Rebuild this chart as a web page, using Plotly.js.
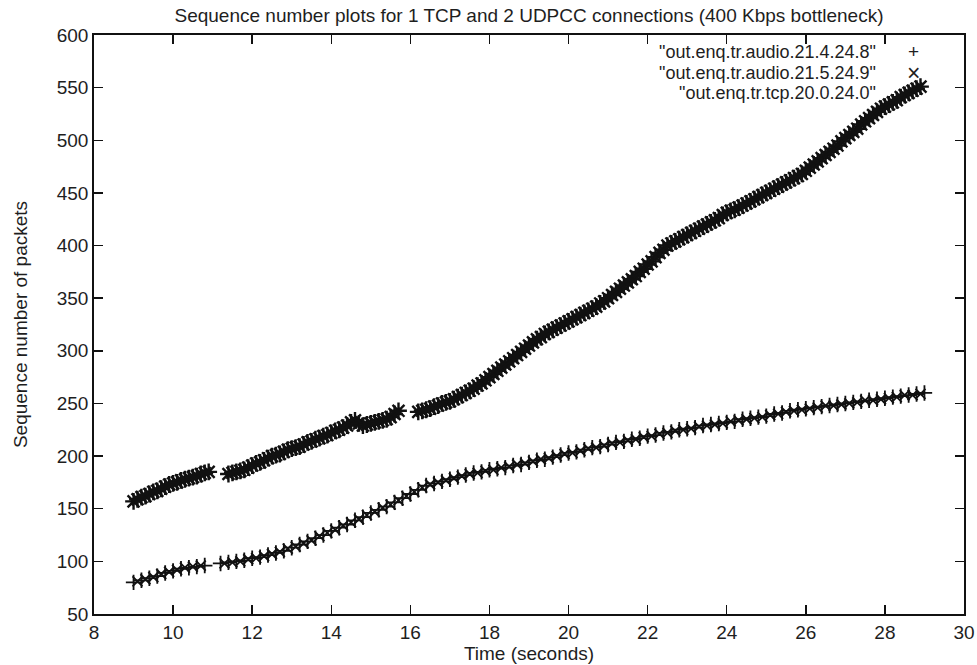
<!DOCTYPE html>
<html>
<head>
<meta charset="utf-8">
<script src="https://cdn.plot.ly/plotly-3.0.1.min.js"></script>
<style>html,body{margin:0;padding:0;background:#fff;}#chart{width:977px;height:665px;}</style>
</head>
<body>
<div id="chart"></div>
<script>
// ---- data ----
const seriesNames = ['"out.enq.tr.audio.21.4.24.8"', '"out.enq.tr.audio.21.5.24.9"', '"out.enq.tr.tcp.20.0.24.0"'];

const audio1Time = [9.0,9.2,9.4,9.6,9.8,10.0,10.2,10.4,10.6,10.8,11.2,11.4,11.6,11.8,12.0,12.2,12.4,12.6,12.8,13.0,13.2,13.4,13.6,13.8,14.0,14.2,14.4,14.6,14.8,15.0,15.2,15.4,15.6,15.8,16.0,16.2,16.4,16.6,16.8,17.0,17.2,17.4,17.6,17.8,18.0,18.2,18.4,18.6,18.8,19.0,19.2,19.4,19.6,19.8,20.0,20.2,20.4,20.6,20.8,21.0,21.2,21.4,21.6,21.8,22.0,22.2,22.4,22.6,22.8,23.0,23.2,23.4,23.6,23.8,24.0,24.2,24.4,24.6,24.8,25.0,25.2,25.4,25.6,25.8,26.0,26.2,26.4,26.6,26.8,27.0,27.2,27.4,27.6,27.8,28.0,28.2,28.4,28.6,28.8,29.0];
const audio1Seq = [80,82,84,86,89,91,93,94,95,96,98,99,100,101,103,104,106,108,110,113,116,119,122,125,129,132,135,139,142,146,149,152,156,160,164,168,172,174,176,178,180,182,184,185,187,188,189,191,192,194,196,197,199,201,203,204,206,208,209,211,213,214,216,217,219,220,222,223,225,226,227,229,230,231,232,233,235,236,237,238,240,241,243,244,245,246,247,248,249,250,251,252,253,254,255,256,257,258,259,260];

const audio2Time = [9.1,9.3,9.5,9.7,9.9,10.1,10.3,10.5,10.7,11.3,11.5,11.7,11.9,12.1,12.3,12.5,12.7,12.9,13.1,13.3,13.5,13.7,13.9,14.1,14.3,14.5,14.7,14.9,15.1,15.3,15.5,15.7,15.9,16.1,16.3,16.5,16.7,16.9,17.1,17.3,17.5,17.7,17.9,18.1,18.3,18.5,18.7,18.9,19.1,19.3,19.5,19.7,19.9,20.1,20.3,20.5,20.7,20.9,21.1,21.3,21.5,21.7,21.9,22.1,22.3,22.5,22.7,22.9,23.1,23.3,23.5,23.7,23.9,24.1,24.3,24.5,24.7,24.9,25.1,25.3,25.5,25.7,25.9,26.1,26.3,26.5,26.7,26.9,27.1,27.3,27.5,27.7,27.9,28.1,28.3,28.5,28.7,28.9];
const audio2Seq = [81,83,85,88,90,92,94,95,96,98,99,100,102,103,105,107,109,112,114,117,120,124,127,130,134,137,140,144,147,151,154,158,162,166,170,173,175,177,179,181,183,184,186,187,189,190,192,193,195,197,198,200,202,203,205,207,208,210,212,213,215,216,218,219,221,222,224,225,226,228,229,230,231,233,234,235,236,237,239,240,242,243,244,245,246,248,248,249,250,251,253,253,254,255,256,258,258,259];

const tcpTime = [9.0,9.1,9.2,9.3,9.4,9.5,9.6,9.7,9.8,9.9,10.0,10.1,10.2,10.3,10.4,10.5,10.6,10.7,10.8,10.9,
11.4,11.5,11.6,11.7,11.8,11.9,12.0,12.1,12.2,12.3,12.4,12.5,12.6,12.7,12.8,12.9,13.0,13.1,13.2,13.3,13.4,13.5,13.6,13.7,13.8,13.9,14.0,14.1,14.2,14.3,14.4,14.5,14.6,14.7,14.8,14.9,15.0,15.1,15.2,15.3,15.4,15.5,15.6,15.7,
16.2,16.3,16.4,16.5,16.6,16.7,16.8,16.9,17.0,17.1,17.2,17.3,17.4,17.5,17.6,17.7,17.8,17.9,18.0,18.1,18.2,18.3,18.4,18.5,18.6,18.7,18.8,18.9,19.0,19.1,19.2,19.3,19.4,19.5,19.6,19.7,19.8,19.9,20.0,20.1,20.2,20.3,20.4,20.5,20.6,20.7,20.8,20.9,21.0,21.1,21.2,21.3,21.4,21.5,21.6,21.7,21.8,21.9,22.0,22.1,22.2,22.3,22.4,22.5,22.6,22.7,22.8,22.9,23.0,23.1,23.2,23.3,23.4,23.5,23.6,23.7,23.8,23.9,24.0,24.1,24.2,24.3,24.4,24.5,24.6,24.7,24.8,24.9,25.0,25.1,25.2,25.3,25.4,25.5,25.6,25.7,25.8,25.9,26.0,26.1,26.2,26.3,26.4,26.5,26.6,26.7,26.8,26.9,27.0,27.1,27.2,27.3,27.4,27.5,27.6,27.7,27.8,27.9,28.0,28.1,28.2,28.3,28.4,28.5,28.6,28.7,28.8,28.9];
const tcpSeq = [157,159,161,162,164,166,167,169,171,173,174,175,177,178,179,180,181,183,184,185,
183,184,185,186,187,189,191,193,194,196,198,200,201,202,204,206,207,208,209,211,213,214,216,217,219,220,222,224,225,227,229,232,234,231,229,230,231,232,233,234,235,237,240,243,
242,243,244,245,247,248,250,251,252,254,256,258,260,262,264,267,269,272,275,278,281,284,287,290,293,296,299,302,305,308,311,313,316,318,320,322,324,326,328,330,332,334,336,338,340,342,345,347,350,353,356,359,362,365,368,371,375,378,382,385,389,393,396,400,402,404,406,408,410,412,414,416,418,420,422,424,426,429,431,433,434,436,438,440,442,444,446,448,450,452,454,456,458,460,462,464,466,468,471,474,477,480,483,486,489,492,495,499,502,505,508,511,515,518,521,524,527,530,532,534,536,538,541,543,545,547,549,551];

const xTickVals = [8,10,12,14,16,18,20,22,24,26,28,30];
const yTickVals = [50,100,150,200,250,300,350,400,450,500,550,600];

const FONT = 'Liberation Sans, Arial, Helvetica, sans-serif';
const INK = '#111111';
const TXT = '#1e1e1e';

const traces = [
  {x: audio1Time, y: audio1Seq, name: seriesNames[0], type: 'scatter', mode: 'markers',
   marker: {symbol: 'cross-thin-open', size: 11, color: INK, line: {color: INK, width: 1.8}}},
  {x: audio2Time, y: audio2Seq, name: seriesNames[1], type: 'scatter', mode: 'markers',
   marker: {symbol: 'x-thin-open', size: 10, color: INK, line: {color: INK, width: 1.8}}},
  {x: tcpTime, y: tcpSeq, name: seriesNames[2], type: 'scatter', mode: 'markers',
   marker: {symbol: 'asterisk-open', size: 14, color: INK, line: {color: INK, width: 2.4}}}
];

// legend rows (paper fraction of plot height) placed at ~48, 69, 90 px from top
const legendRowsY = [0.971, 0.935, 0.899];
const legendSymbols = ['+', '×', ''];
const legendSymbolSizes = [19, 23, 19];
const annotations = [];
seriesNames.forEach((n, i) => {
  annotations.push({xref: 'paper', yref: 'paper', x: 0.901, y: legendRowsY[i], text: n,
    showarrow: false, xanchor: 'right', yanchor: 'middle', font: {family: FONT, size: 18, color: TXT}});
  if (legendSymbols[i]) {
    annotations.push({xref: 'paper', yref: 'paper', x: 0.942, y: legendRowsY[i], text: legendSymbols[i],
      showarrow: false, xanchor: 'center', yanchor: 'middle', font: {family: FONT, size: legendSymbolSizes[i], color: TXT}});
  }
});

const axisCommon = {
  showline: true, linecolor: '#111', linewidth: 1.8, mirror: 'ticks',
  ticks: 'inside', ticklen: 9, tickwidth: 1.4, tickcolor: '#111',
  showgrid: false, zeroline: false,
  tickfont: {family: FONT, size: 19, color: TXT}
};

const layout = {
  width: 977, height: 665,
  margin: {l: 94, r: 13, t: 35, b: 51},
  paper_bgcolor: '#fff', plot_bgcolor: '#fff',
  showlegend: false,
  font: {family: FONT, color: TXT},
  title: {text: 'Sequence number plots for 1 TCP and 2 UDPCC connections (400 Kbps bottleneck)',
          font: {family: FONT, size: 19, color: TXT},
          x: 0.5, xref: 'paper', xanchor: 'center', y: 0.977, yref: 'container', yanchor: 'middle'},
  xaxis: Object.assign({}, axisCommon, {range: [8, 30], tickvals: xTickVals, ticktext: xTickVals.map(String),
          title: {text: 'Time (seconds)', font: {family: FONT, size: 19, color: TXT}, standoff: 0}}),
  yaxis: Object.assign({}, axisCommon, {range: [50, 600], tickvals: yTickVals, ticktext: yTickVals.map(String),
          title: {text: 'Sequence number of packets', font: {family: FONT, size: 19, color: TXT}, standoff: 24}}),
  annotations: annotations
};

Plotly.newPlot('chart', traces, layout, {displayModeBar: false, staticPlot: true});
</script>
</body>
</html>
